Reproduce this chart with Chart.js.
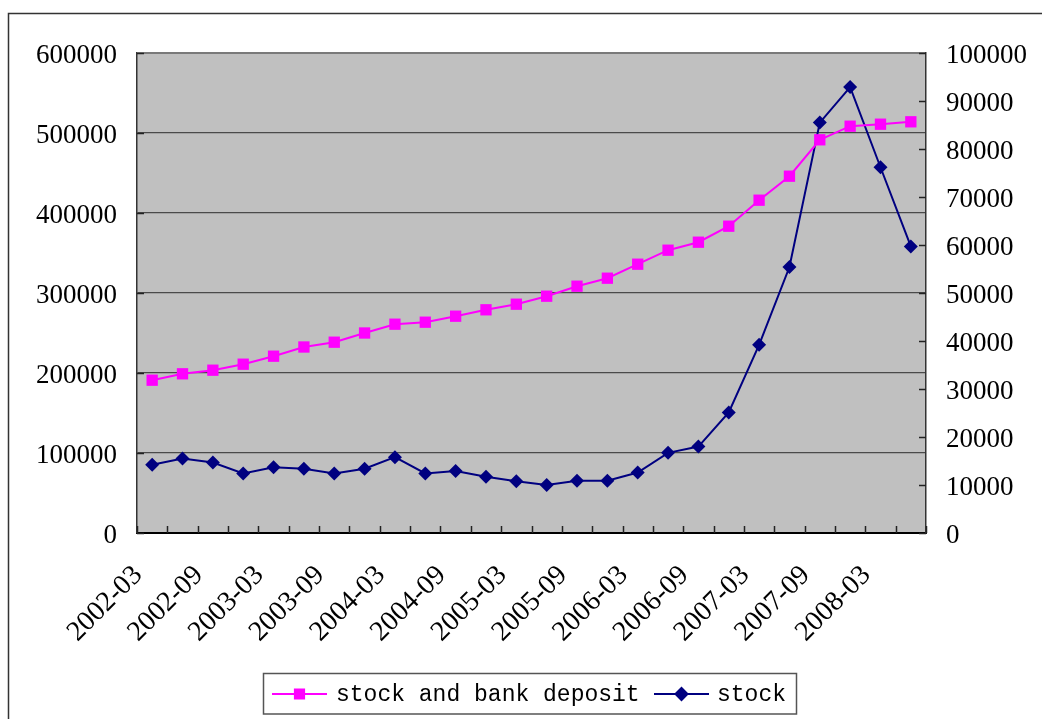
<!DOCTYPE html>
<html>
<head>
<meta charset="utf-8">
<script src="https://cdn.jsdelivr.net/npm/chart.js@4.4.0/dist/chart.umd.min.js"></script>
<style>
html,body{margin:0;padding:0;background:#fff;}
#wrap{position:relative;width:1042px;height:719px;}
</style>
</head>
<body>
<div id="wrap"><canvas id="c"></canvas></div>
<script>
const categories = [
  "2002-03","2002-06","2002-09","2002-12",
  "2003-03","2003-06","2003-09","2003-12",
  "2004-03","2004-06","2004-09","2004-12",
  "2005-03","2005-06","2005-09","2005-12",
  "2006-03","2006-06","2006-09","2006-12",
  "2007-03","2007-06","2007-09","2007-12",
  "2008-03","2008-06"
];
const stockAndBankDeposit = [
  191000, 199000, 203500, 211000, 221000, 232500, 238500, 250000,
  261000, 263500, 271000, 279000, 286000, 296000, 308500, 318500,
  336000, 353500, 363500, 383500, 416000, 446000, 491500, 508500,
  511000, 514000
];
const stock = [
  14200, 15500, 14700, 12400, 13700, 13400, 12400, 13400,
  15800, 12400, 12900, 11700, 10800, 10000, 10900, 10900,
  12600, 16700, 18000, 25100, 39200, 55400, 85500, 92900,
  76200, 59700
];
const leftTicks = {min: 0, max: 600000, step: 100000};
const rightTicks = {min: 0, max: 100000, step: 10000};
const seriesNames = ["stock and bank deposit", "stock"];

const PINK = '#FF00FF', NAVY = '#000080';
const PLOT = {left: 137, right: 926, top: 53, bottom: 533};
const SERIF = '"Liberation Serif", serif';

const decor = {
  id: 'decor',
  beforeDraw(chart) {
    const ctx = chart.ctx, a = chart.chartArea;
    ctx.save();
    ctx.fillStyle = '#C0C0C0';
    ctx.fillRect(a.left, a.top, a.right - a.left, a.bottom - a.top);
    ctx.strokeStyle = '#333';
    ctx.lineWidth = 1.5;
    ctx.beginPath();
    ctx.moveTo(8.5, 719);
    ctx.lineTo(8.5, 13.5);
    ctx.lineTo(1042, 13.5);
    ctx.stroke();
    ctx.restore();
  },
  beforeDatasetsDraw(chart) {
    const ctx = chart.ctx, a = chart.chartArea;
    const x = chart.scales.x, y = chart.scales.y, y1 = chart.scales.y1;
    ctx.save();
    ctx.strokeStyle = '#222';
    ctx.lineWidth = 1.5;
    ctx.beginPath();
    const step = x.getPixelForValue(1) - x.getPixelForValue(0);
    for (let i = 0; i <= categories.length; i++) {
      const px = Math.round(x.getPixelForValue(i) - step / 2) + 0.5;
      ctx.moveTo(px, a.bottom);
      ctx.lineTo(px, a.bottom - 7);
    }
    y.ticks.forEach(t => {
      const py = Math.round(y.getPixelForValue(t.value)) + 0.5;
      ctx.moveTo(a.left, py);
      ctx.lineTo(a.left + 7, py);
    });
    y1.ticks.forEach(t => {
      const py = Math.round(y1.getPixelForValue(t.value)) + 0.5;
      ctx.moveTo(a.right, py);
      ctx.lineTo(a.right - 7, py);
    });
    ctx.stroke();
    ctx.restore();
  },
  afterDraw(chart) {
    const ctx = chart.ctx;
    const ds = chart.data.datasets;
    ctx.save();
    ctx.strokeStyle = '#555';
    ctx.lineWidth = 1.5;
    ctx.strokeRect(263.5, 673.5, 533, 40.5);
    const cy = 694;
    const items = [
      {x0: 272, x1: 327, tx: 336, ds: ds[0]},
      {x0: 654, x1: 709, tx: 717, ds: ds[1]}
    ];
    ctx.font = '23px "Liberation Mono", monospace';
    ctx.textBaseline = 'middle';
    ctx.textAlign = 'left';
    items.forEach(it => {
      ctx.strokeStyle = it.ds.borderColor;
      ctx.lineWidth = 2;
      ctx.beginPath();
      ctx.moveTo(it.x0, cy);
      ctx.lineTo(it.x1, cy);
      ctx.stroke();
      ctx.fillStyle = it.ds.pointBackgroundColor;
      ctx.strokeStyle = it.ds.pointBorderColor;
      Chart.helpers.drawPoint(ctx, {pointStyle: it.ds.pointStyle, radius: it.ds.legendRadius, borderWidth: 1, rotation: 0}, (it.x0 + it.x1) / 2, cy);
      ctx.fillStyle = '#000';
      ctx.fillText(it.ds.label, it.tx, cy + 1);
    });
    ctx.restore();
  }
};

new Chart(document.getElementById('c'), {
  type: 'line',
  data: {
    labels: categories,
    datasets: [
      {
        label: seriesNames[0], data: stockAndBankDeposit, yAxisID: 'y',
        borderColor: PINK, backgroundColor: PINK, borderWidth: 2,
        pointStyle: 'rect', pointRadius: 8, pointBackgroundColor: PINK, pointBorderColor: PINK,
        pointBorderWidth: 0, tension: 0, legendRadius: 6.5
      },
      {
        label: seriesNames[1], data: stock, yAxisID: 'y1',
        borderColor: NAVY, backgroundColor: NAVY, borderWidth: 2,
        pointStyle: 'rectRot', pointRadius: 7, pointBackgroundColor: NAVY, pointBorderColor: NAVY,
        pointBorderWidth: 0, tension: 0, legendRadius: 6
      }
    ]
  },
  options: {
    responsive: true, maintainAspectRatio: false, animation: false,
    devicePixelRatio: 1,
    layout: {padding: {left: 0, right: 0, top: PLOT.top, bottom: 0}},
    plugins: {legend: {display: false}, tooltip: {enabled: false}},
    scales: {
      x: {
        type: 'category', offset: true,
        afterFit(s) { s.height = 719 - PLOT.bottom; },
        grid: {display: false, drawTicks: false},
        border: {display: true, color: '#000', width: 2},
        ticks: {
          autoSkip: false, minRotation: 45, maxRotation: 45, padding: 26,
          labelOffset: -14,
          color: '#000', font: {family: SERIF, size: 28},
          callback(v, i) { return i % 2 === 0 ? categories[i] : ''; }
        }
      },
      y: {
        position: 'left', min: leftTicks.min, max: leftTicks.max,
        afterFit(s) { s.width = PLOT.left; },
        grid: {
          drawTicks: false,
          color: ctx => ctx.tick && ctx.tick.value === leftTicks.max ? '#7a7a7a' : '#4a4a4a',
          lineWidth: ctx => ctx.tick && ctx.tick.value === leftTicks.max ? 2 : 1.3
        },
        border: {display: true, color: '#333', width: 1.5},
        ticks: {
          stepSize: leftTicks.step, padding: 20, color: '#000', labelOffset: 3,
          font: {family: SERIF, size: 27},
          callback: v => String(v)
        }
      },
      y1: {
        position: 'right', min: rightTicks.min, max: rightTicks.max,
        afterFit(s) { s.width = 1042 - PLOT.right; },
        grid: {drawOnChartArea: false, drawTicks: false},
        border: {display: true, color: '#333', width: 1.5},
        ticks: {
          stepSize: rightTicks.step, padding: 20, color: '#000', labelOffset: 3,
          font: {family: SERIF, size: 27},
          callback: v => String(v)
        }
      }
    }
  },
  plugins: [decor]
});
</script>
</body>
</html>
